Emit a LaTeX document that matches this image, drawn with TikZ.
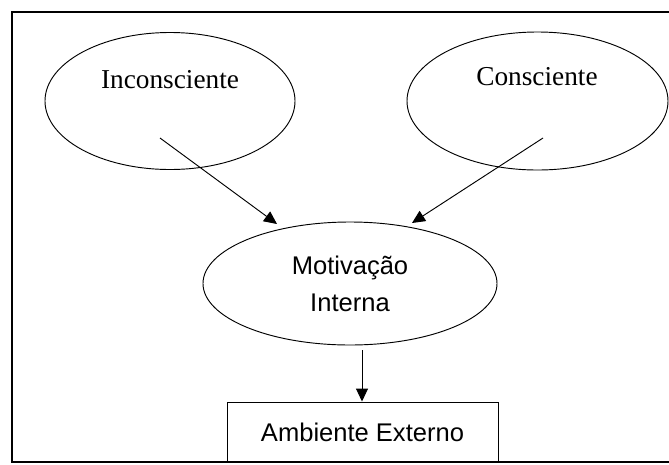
\documentclass[tikz,border=0pt]{standalone}
\usepackage{fontspec}
\setmainfont{Liberation Serif}
\setsansfont{Liberation Sans}
\usetikzlibrary{shapes.geometric,arrows.meta}

\begin{document}
\begin{tikzpicture}[x=0.03cm,y=-0.03cm,line width=0.8pt,
    >={Triangle[length=0.39cm,width=0.36cm]},
    serif/.style={font=\fontsize{23.3}{28}\selectfont},
    sans/.style={font=\sffamily\fontsize{21.8}{31.6}\selectfont}]
            \useasboundingbox (0,0) rectangle (669,464);
            % frame, right side runs off the page
            \draw[line width=1pt] (669,12) -- (12,12) -- (12,462) -- (669,462);
            % Inconsciente / Consciente
            \node[ellipse,draw,minimum width=7.5cm,minimum height=4.11cm] (node1) at (170,101) {};
            \node[serif] (node2) at (170,80) {Inconsciente};
            \node[ellipse,draw,minimum width=7.83cm,minimum height=4.14cm] (node3) at (537.5,101) {};
            \node[serif] (node4) at (537,77) {Consciente};
            % Motivacao Interna
            \node[ellipse,draw,minimum width=8.82cm,minimum height=3.69cm,align=center,sans] (node5) at (350,283.5) {Motivação\\Interna};
            \node[rectangle,draw,minimum width=8.13cm,minimum height=1.8cm,sans] (node6) at (362.5,432) {Ambiente Externo};
            % arrows
            \coordinate (a1) at (160,138);
            \coordinate (b1) at (277,224);
            \coordinate (a2) at (543,138);
            \coordinate (b2) at (412,223);
            \coordinate (a3) at (362,350);
            \draw[->] (a1) -- (b1);
            \draw[->] (a2) -- (b2);
            \draw[->] (a3) -- (a3 |- node6.north);
        \end{tikzpicture}
\end{document}
